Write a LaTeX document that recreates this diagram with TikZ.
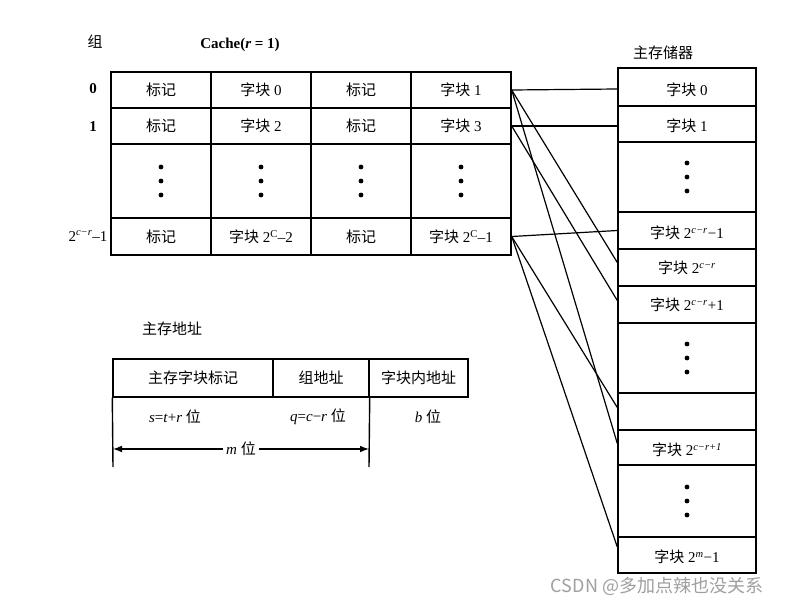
\documentclass[tikz,border=0pt]{standalone}
\usepackage{fontspec}
\setmainfont{Liberation Serif}
\newfontfamily\cjk{Noto Sans CJK SC}
\usetikzlibrary{arrows.meta}
\newcommand{\zikuai}{{\cjk 字块}}
\newcommand{\biaoji}{{\cjk 标记}}
\newcommand{\pw}[1]{2\textsuperscript{\textit{#1}}}

\begin{document}
\begin{tikzpicture}[x=1pt,y=-1pt,
  cell/.style={draw, line width=1.4pt, inner sep=0pt, font=\fontsize{15}{17}\selectfont},
  link/.style={line width=1.2pt},
  lbl/.style={font=\fontsize{15}{17}\selectfont},
  threedots/.pic={\foreach \k in {-1,0,1} \fill (0,\k*14) circle (2.4);}]
  \useasboundingbox[fill=white] (0,0) rectangle (789,607);
  % Cache titles and group numbers
  \node[lbl] (zu) at (95,42) {\cjk 组};
  \node[lbl] (cachetitle) at (240,45) {\bfseries Cache(\textit{r} = 1)};
  \node[lbl] (g0) at (93,89) {\bfseries 0};
  \node[lbl] (g1) at (93,127) {\bfseries 1};
  \node[lbl] (glast) at (88,236) {\pw{c−r}–1};
  % Cache table
  \foreach \r/\y/\h in {0/90/36, 1/126/36, 2/181/74, 3/236.5/37}
    \foreach \c/\x in {0/161,1/261,2/361,3/461}
      \node[cell, minimum width=100pt, minimum height=\h pt] (c\r\c) at (\x,\y) {};
  \node[lbl] at (c00) {\biaoji};
  \node[lbl] at (c01) {\zikuai~0};
  \node[lbl] at (c02) {\biaoji};
  \node[lbl] at (c03) {\zikuai~1};
  \node[lbl] at (c10) {\biaoji};
  \node[lbl] at (c11) {\zikuai~2};
  \node[lbl] at (c12) {\biaoji};
  \node[lbl] at (c13) {\zikuai~3};
  \foreach \c in {0,1,2,3}
    \pic at (c2\c) {threedots};
  \node[lbl] at (c30) {\biaoji};
  \node[lbl] at (c31) {\zikuai~2\textsuperscript{C}–2};
  \node[lbl] at (c32) {\biaoji};
  \node[lbl] at (c33) {\zikuai~2\textsuperscript{C}–1};
  % Main memory
  \node[lbl] (memtitle) at (663,53) {\cjk 主存储器};
  \foreach \i/\y/\h in {0/87/38, 1/124/36, 2/177/70, 3/230.5/37, 4/267.5/37, 5/304.5/37,
                         6/358/70, 7/411.5/37, 8/447.5/35, 9/501/72, 10/555/36}
    \node[cell, minimum width=138pt, minimum height=\h pt] (m\i) at (687,\y) {};
  \node[lbl] at ([yshift=-3pt]m0) {\zikuai~0};
  \node[lbl] at ([yshift=-2pt]m1) {\zikuai~1};
  \pic at (m2) {threedots};
  \node[lbl] at ([yshift=-2pt]m3) {\zikuai~\pw{c−r}−1};
  \node[lbl] at (m4) {\zikuai~\pw{c−r}};
  \node[lbl] at (m5) {\zikuai~\pw{c−r}+1};
  \pic at (m6) {threedots};
  \node[lbl] at ([yshift=-2pt]m8) {\zikuai~\pw{c−r+1}};
  \pic at (m9) {threedots};
  \node[lbl] at ([yshift=-2pt]m10) {\zikuai~\pw{m}−1};
  % Mapping lines
  \draw[link] (c03.east) -- ([yshift=-2pt]m0.west);
  \draw[link] (c03.east) -- ([yshift=5pt]m4.west);
  \draw[link] (c03.east) -- ([yshift=4pt]m8.west);
  \draw[link] (c13.east) -- ([yshift=-2pt]m1.west);
  \draw[link] (c13.east) -- ([yshift=4pt]m5.west);
  \draw[link] (c33.east) -- (m3.west);
  \draw[link] (c33.east) -- ([yshift=4pt]m7.west);
  \draw[link] (c33.east) -- ([yshift=8pt]m10.west);
  % Main memory address
  \node[lbl] (addrtitle) at (172,329) {\cjk 主存地址};
  \node[cell, minimum width=160pt, minimum height=38pt] (a0) at (193,378) {\cjk 主存字块标记};
  \node[cell, minimum width=96pt, minimum height=38pt] (a1) at (321,378) {\cjk 组地址};
  \node[cell, minimum width=99pt, minimum height=38pt] (a2) at (418.5,378) {\cjk 字块内地址};
  \coordinate (lowl) at (113,467);
  \coordinate (lowr) at (369,467);
  \coordinate (arl) at (113,449);
  \coordinate (arr) at (369,449);
  \draw[line width=1.4pt] (a0.south west) -- (lowl);
  \draw[line width=1.4pt] (a1.south east) -- (lowr);
  \node[lbl] (sbits) at (175,417) {\textit{s}=\textit{t}+\textit{r} {\cjk 位}};
  \node[lbl] (qbits) at (318,417) {\textit{q}=\textit{c}−\textit{r} {\cjk 位}};
  \node[lbl] (bbits) at (428,417) {\textit{b} {\cjk 位}};
  \draw[link, {Latex[length=9pt]}-{Latex[length=9pt]}] (arl) -- (arr)
    node[midway, fill=white, lbl, inner sep=3pt] (mbits) {\textit{m} {\cjk 位}};
  % watermark
  \node[text=gray!75, font=\cjk\fontsize{18}{20}\selectfont] (wm) at (657,586) {CSDN @多加点辣也没关系};
\end{tikzpicture}
\end{document}
